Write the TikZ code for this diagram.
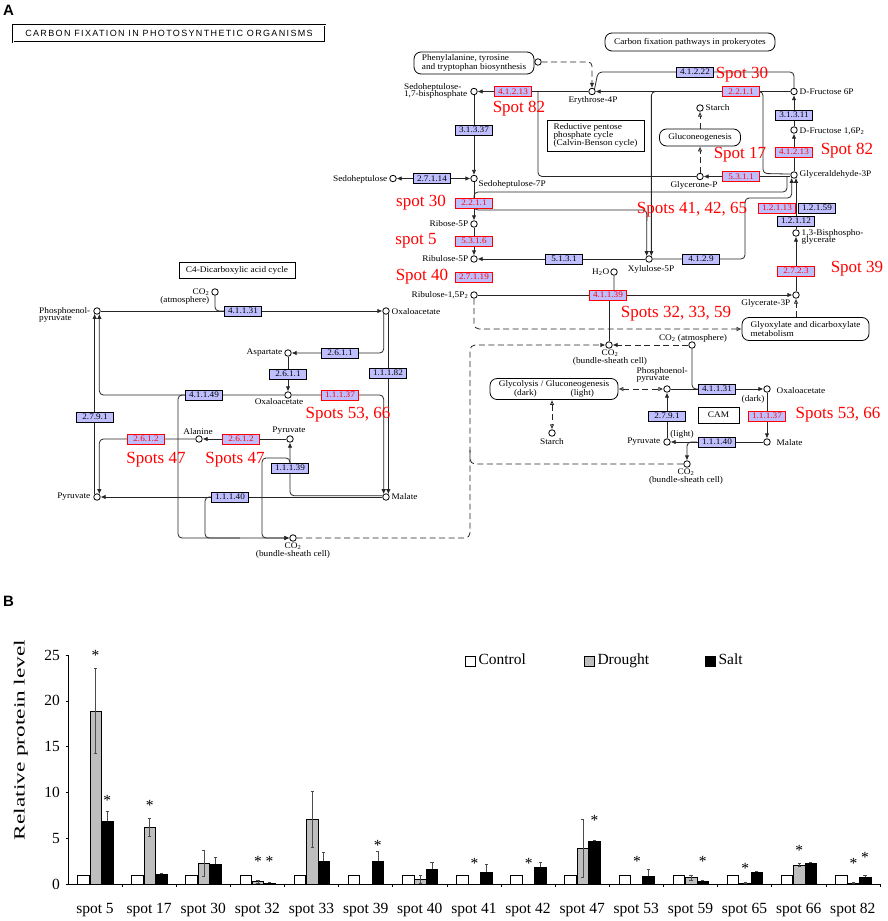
\documentclass[tikz,border=0pt]{standalone}
\usepackage{fontspec}
\setmainfont{Liberation Serif}
\newfontfamily\headfont{Liberation Sans}
\newfontfamily\capsfont[LetterSpace=15]{Liberation Sans}
\newfontfamily\keggfont[FakeStretch=1.08]{Liberation Serif}
\usetikzlibrary{arrows.meta,backgrounds,calc,positioning}
\definecolor{enzblue}{RGB}{191,191,255}
\definecolor{spotred}{RGB}{255,0,0}
\definecolor{droughtgray}{RGB}{190,190,190}
\newcommand\lblfont{\keggfont\fontsize{8.6}{7.8}\selectfont}
\newcommand\enzfont{\keggfont\fontsize{8.5}{8.5}\selectfont}
\newcommand\spotfont{\fontsize{17}{17}\selectfont}
\newcommand\chartfont{\fontsize{15.5}{16}\selectfont}
\tikzset{
  met/.style={circle,draw,line width=0.8pt,fill=white,inner sep=0pt,minimum size=6.5pt},
  enz/.style={draw,line width=0.7pt,fill=enzblue,font=\enzfont,inner sep=0pt,minimum width=37pt,minimum height=10pt},
  enzred/.style={enz,draw=red,text=red},
  lbl/.style={font=\lblfont,inner sep=0.5pt,align=left},
  spot/.style={text=spotred,font=\spotfont,inner sep=0pt},
  mapbox/.style={draw,line width=0.8pt,rounded corners=7pt,font=\lblfont,inner sep=2pt,align=left},
  sqbox/.style={draw,line width=0.8pt,font=\lblfont,inner sep=2pt,align=left},
  rx/.style={draw=black!85,line width=0.8pt},
  rxd/.style={rx,dash pattern=on 6pt off 3.5pt},
  legtext/.style={font=\chartfont,inner sep=0pt,text height=10.5pt,text depth=3pt},
  Ot/.tip={Latex[open,length=5pt,width=4.5pt]},
  >={Latex[length=5pt,width=4.5pt]},
}
\begin{document}
\begin{tikzpicture}[x=1pt,y=-1pt]
\useasboundingbox (0,0) rectangle (888,921);

% panel letters and title
\node[font=\headfont\bfseries\fontsize{15}{15}\selectfont,anchor=base west,inner sep=0pt] (lettera) at (3,15) {A};
\node[font=\headfont\bfseries\fontsize{15}{15}\selectfont,anchor=base west,inner sep=0pt] (letterb) at (3,606) {B};
\node[draw,double,double distance=0.9pt,line width=0.9pt,minimum width=312pt,minimum height=17pt,inner sep=0pt,font=\capsfont\fontsize{9}{9}\selectfont] (title) at (169,33.5) {CARBON FIXATION IN PHOTOSYNTHETIC ORGANISMS};

% map boxes
\node[mapbox,minimum width=120pt,minimum height=22pt] (phe) at (474,63) {Phenylalanine, tyrosine\\and tryptophan biosynthesis};
\node[mapbox,minimum width=170pt,minimum height=18pt] (prok) at (690,42) {Carbon fixation pathways in prokeryotes};
\node[sqbox,minimum width=97pt,minimum height=31pt] (rpp) at (595.5,135.5) {Reductive pentose\\phosphate cycle\\(Calvin-Benson cycle)};
\node[mapbox,minimum width=81pt,minimum height=17pt] (glucon) at (700,137.5) {Gluconeogenesis};
\node[mapbox,minimum width=127pt,minimum height=23pt] (glyox) at (805.5,329) {Glyoxylate and dicarboxylate\\metabolism};
\node[mapbox,minimum width=128pt,minimum height=21pt,align=center] (glyco) at (554,389) {Glycolysis / Gluconeogenesis\\(dark)\hspace{34pt}(light)};
\node[sqbox,minimum width=41pt,minimum height=16pt] (cam) at (718.5,415) {CAM};
\node[sqbox,minimum width=116pt,minimum height=16pt] (cfour) at (237,270) {C4-Dicarboxylic acid cycle};

% compounds, Calvin cycle
\node[met] (phec) at (538,62) {};
\node[met] (s17bp) at (474,91.5) {};
\node[met] (e4p) at (592,91.5) {};
\node[met] (f6p) at (794,91.5) {};
\node[met] (fbp) at (794,130) {};
\node[met] (starcha) at (700,108) {};
\node[met] (sedo) at (393,178.5) {};
\node[met] (s7p) at (474,178.5) {};
\node[met] (gap) at (794,175) {};
\node[met] (dhap) at (700,176.5) {};
\node[met] (r5p) at (474,224) {};
\node[met] (ru5p) at (474,259) {};
\node[met] (x5p) at (649,259) {};
\node[met] (bpg) at (796,233) {};
\node[met] (h2o) at (614,272) {};
\node[met] (rubp) at (474,295) {};
\node[met] (g3p) at (796,295) {};
\node[met] (co2bs) at (609,345) {};
\node[met] (co2atm) at (692,345) {};
% compounds, CAM
\node[met] (pepc) at (667,389) {};
\node[met] (oaad) at (767,389) {};
\node[met] (mald) at (767,442) {};
\node[met] (pyrd) at (667,442) {};
\node[met] (co2bsc) at (687,464) {};
\node[met] (starchb) at (552,433) {};
% compounds, C4 cycle
\node[met] (co2atmb) at (215,292) {};
\node[met] (pepb) at (97,311) {};
\node[met] (oaab) at (386,311) {};
\node[met] (asp) at (288,353) {};
\node[met] (oaac) at (288,395) {};
\node[met] (ala) at (199,439) {};
\node[met] (pyrc) at (290,439) {};
\node[met] (pyrb) at (97,497) {};
\node[met] (malb) at (386,497) {};
\node[met] (co2bsb) at (293,538) {};

% compound names
\node[lbl,anchor=east] (ls17bp) at (468,91) {Sedoheptulose-\\1,7-bisphosphate};
\node[lbl,anchor=north] (le4p) at (593,96) {Erythrose-4P};
\node[lbl,anchor=west] (lf6p) at (799,92) {D-Fructose 6P};
\node[lbl,anchor=west] (lfbp) at (799,131) {D-Fructose 1,6P\textsubscript{2}};
\node[lbl,anchor=west] (lstarcha) at (705,108) {Starch};
\node[lbl,anchor=east] (lsedo) at (388,179) {Sedoheptulose};
\node[lbl,anchor=north west] (ls7p) at (478,180) {Sedoheptulose-7P};
\node[lbl,anchor=west] (lgap) at (799,174) {Glyceraldehyde-3P};
\node[lbl,anchor=north] (ldhap) at (694,180.5) {Glycerone-P};
\node[lbl,anchor=east] (lr5p) at (469,224) {Ribose-5P};
\node[lbl,anchor=east] (lru5p) at (469,259) {Ribulose-5P};
\node[lbl,anchor=north] (lx5p) at (651,265) {Xylulose-5P};
\node[lbl,anchor=west] (lbpg) at (801,237) {1,3-Bisphospho-\\glycerate};
\node[lbl,anchor=east] (lh2o) at (610,272) {H\textsubscript{2}O};
\node[lbl,anchor=east] (lrubp) at (469,295) {Ribulose-1,5P\textsubscript{2}};
\node[lbl,anchor=north east] (lg3p) at (791,299) {Glycerate-3P};
\node[lbl,anchor=north,align=center] (lco2bs) at (610,349) {CO\textsubscript{2}\\(bundle-sheath cell)};
\node[lbl,anchor=south] (lco2atm) at (693,343.5) {CO\textsubscript{2} (atmosphere)};
\node[lbl,anchor=south west] (lpepc) at (636,383.5) {Phosphoenol-\\pyruvate};
\node[lbl,anchor=west] (loaad) at (776,391) {Oxaloacetate};
\node[lbl] (ldark) at (753,399) {(dark)};
\node[lbl,anchor=west] (lmald) at (776,443) {Malate};
\node[lbl,anchor=east] (lpyrd) at (661,442) {Pyruvate};
\node[lbl] (llight) at (682,434) {(light)};
\node[lbl,anchor=north,align=center] (lco2bsc) at (686,468) {CO\textsubscript{2}\\(bundle-sheath cell)};
\node[lbl,anchor=north] (lstarchb) at (552,438) {Starch};
\node[lbl,anchor=east,align=right] (lco2atmb) at (210,296.5) {CO\textsubscript{2}\\(atmosphere)};
\node[lbl,anchor=east] (lpepb) at (91,315) {Phosphoenol-\\pyruvate};
\node[lbl,anchor=west] (loaab) at (391,312) {Oxaloacetate};
\node[lbl,anchor=east] (lasp) at (283,353) {Aspartate};
\node[lbl,anchor=north] (loaac) at (279,398) {Oxaloacetate};
\node[lbl,anchor=south] (lala) at (198,435) {Alanine};
\node[lbl,anchor=south] (lpyrc) at (289,435) {Pyruvate};
\node[lbl,anchor=east] (lpyrb) at (91,497) {Pyruvate};
\node[lbl,anchor=west] (lmalb) at (391,497) {Malate};
\node[lbl,anchor=north,align=center] (lco2bsb) at (293,542) {CO\textsubscript{2}\\(bundle-sheath cell)};

% enzymes
\node[enzred] (ec41213a) at (513,91.5) {4.1.2.13};
\node[enz] (ec31337) at (474,130) {3.1.3.37};
\node[enz] (ec2714) at (432,178.5) {2.7.1.14};
\node[enzred] (ec2211a) at (474,203) {2.2.1.1};
\node[enzred] (ec5316) at (474,241) {5.3.1.6};
\node[enz] (ec5131) at (564,259) {5.1.3.1};
\node[enzred] (ec27119) at (474,277) {2.7.1.19};
\node[enzred] (ec41139) at (608,295) {4.1.1.39};
\node[enz] (ec41222) at (695,72) {4.1.2.22};
\node[enzred] (ec2211b) at (741,91.5) {2.2.1.1};
\node[enz] (ec31311) at (794,115) {3.1.3.11};
\node[enzred] (ec41213b) at (794,152) {4.1.2.13};
\node[enzred] (ec5311) at (741,176.5) {5.3.1.1};
\node[enzred] (ec12113) at (777,208) {1.2.1.13};
\node[enz] (ec12159) at (817,208) {1.2.1.59};
\node[enz] (ec12112) at (796,221) {1.2.1.12};
\node[enzred] (ec2723) at (796,271) {2.7.2.3};
\node[enz] (ec4129) at (701,259) {4.1.2.9};
\node[enz] (ec41131b) at (717,389) {4.1.1.31};
\node[enzred] (ec11137b) at (767,416) {1.1.1.37};
\node[enz] (ec2791b) at (667,416) {2.7.9.1};
\node[enz] (ec11140b) at (717,442) {1.1.1.40};
\node[enz] (ec41131a) at (243,311) {4.1.1.31};
\node[enz] (ec2611a) at (340,353) {2.6.1.1};
\node[enz] (ec2611b) at (288,374) {2.6.1.1};
\node[enz] (ec11182) at (388,373) {1.1.1.82};
\node[enzred] (ec11137a) at (340,395) {1.1.1.37};
\node[enz] (ec41149) at (204,395) {4.1.1.49};
\node[enz] (ec2791a) at (95,417) {2.7.9.1};
\node[enzred] (ec2612a) at (146,439) {2.6.1.2};
\node[enzred] (ec2612b) at (241,439) {2.6.1.2};
\node[enz] (ec11139) at (290,468) {1.1.1.39};
\node[enz] (ec11140a) at (230,497) {1.1.1.40};

% spots
\node[spot] (sp82a) at (519,109) {Spot 82};
\node[spot] (sp30b) at (742,75) {Spot 30};
\node[spot] (sp17) at (740,155) {Spot 17};
\node[spot] (sp82b) at (847,151) {Spot 82};
\node[spot] (sp30a) at (421,203) {spot 30};
\node[spot] (sp41) at (692,210) {Spots 41, 42, 65};
\node[spot] (sp5) at (416,241) {spot 5};
\node[spot] (sp40) at (422,277) {Spot 40};
\node[spot] (sp39) at (857,269) {Spot 39};
\node[spot] (sp32) at (676,314) {Spots 32, 33, 59};
\node[spot] (sp53b) at (838,415) {Spots 53, 66};
\node[spot] (sp53a) at (348,415) {Spots 53, 66};
\node[spot] (sp47a) at (156,460) {Spots 47};
\node[spot] (sp47b) at (235,460) {Spots 47};

\begin{scope}[on background layer]
% Calvin cycle
\draw[rx,->] (e4p) -- (s17bp);
\draw[rx,rounded corners=4pt] (dhap) -| (538,91.5);
\draw[rxd,->,rounded corners=4pt] (phec) -| (e4p);
\draw[rx,rounded corners=4pt] (f6p) |- (598,72) -- (e4p.north east);
\draw[rx,->] (f6p) -- (e4p);
\draw[rx,->,rounded corners=4pt] (660,91.5) -| (x5p.50);
\draw[rx,rounded corners=4pt] (755,91.5) -| (763,173.5) -- (gap.165);
\draw[rx,->] (gap) -- (fbp);
\draw[rx,->] (fbp) -- (f6p);
\draw[rx,->] (gap.west |- dhap) -- (dhap);
\draw[rxd,-Ot] (dhap) -- (dhap |- glucon.south);
\draw[rxd,-Ot] (starcha |- glucon.north) -- (starcha);
\draw[rx,->] (s17bp) -- (s7p);
\draw[rx,<->] (sedo) -- (s7p);
\draw[rx,->] (s7p) -- (r5p);
\draw[rx,rounded corners=4pt] (787,176.5) |- (474,192) -- (474,200);
\draw[rx,->,rounded corners=4pt] (474,205) |- (646.9,210) -- (x5p.130);
\draw[rx,->] (r5p) -- (ru5p);
\draw[rx,->] (x5p) -- (ru5p);
\draw[rx,->,rounded corners=4pt] (x5p) -| (745,198) -| (gap.-130);
\draw[rx,->] (g3p) -- (bpg);
\draw[rx,->] (bpg) -- (bpg |- gap.-50);
\draw[rx,->] (rubp) -- (g3p);
\draw[rx,rounded corners=3pt] (h2o) |- (622,295);
\draw[rx] (co2bs) -- (co2bs |- rubp);
\draw[rxd,-Ot,rounded corners=5pt] (rubp) |- (glyox);
\draw[rxd,-Ot] (g3p |- glyox.north) -- (g3p);
% CAM
\draw[rxd,->] (co2atm) -- (co2bs);
\draw[rxd,->,rounded corners=5pt] (co2bsb) -| (470,345) -- (co2bs);
\draw[rxd,rounded corners=5pt] (470,450) |- (co2bsc);
\draw[rxd,Ot-Ot] (glyco) -- (pepc);
\draw[rxd,Ot-Ot] (starchb |- glyco.south) -- (starchb);
\draw[rx,->] (pepc) -- (oaad);
\draw[rx,rounded corners=4pt] (co2atm) |- (705,389);
\draw[rx,->] (oaad) -- (mald);
\draw[rx,->] (mald) -- (pyrd);
\draw[rx,->,rounded corners=4pt] (697,442) -| (co2bsc);
\draw[rx,->] (pyrd) -- (pepc);
% C4 cycle
\draw[rx,->] (pepb) -- (oaab);
\draw[rx,rounded corners=4pt] (co2atmb) |- (226,311);
\draw[rx,->,rounded corners=4pt] (oaab.-130) |- (asp);
\draw[rx,->] (oaab.-50) -- (malb.50);
\draw[rx,->] (asp) -- (oaac);
\draw[rx,->,rounded corners=4pt] (oaac) -| (malb.130);
\draw[rx,->,rounded corners=4pt] (oaac) -| (pepb.-50);
\draw[rx,->,rounded corners=4pt] (ec41149.west) -| (178,538) -- (co2bsb);
\draw[rx,rounded corners=4pt] (ec11140a.west) -| (205,538) -- (240,538);
\draw[rx,->] (malb) -- (pyrb);
\draw[rx,->,rounded corners=4pt] (malb.160) -| (pyrc);
\draw[rx,->,rounded corners=4pt] (290,466) |- (262,458) |- (co2bsb);
\draw[rx,->] (pyrc) -- (ala);
\draw[rx,->,rounded corners=4pt] (ala) -| (pyrb.50);
\draw[rx,->] (pyrb.130) -- (pepb.-130);
\end{scope}

% bar chart
\draw[line width=0.6pt] (68,655) -- (68,884) -- (880,884);
\foreach \v in {0,5,10,15,20,25}{
  \draw[line width=0.6pt] (65.5,{884-9.16*\v}) -- (68,{884-9.16*\v});
  \node[font=\chartfont,anchor=east,inner sep=0pt] (ytick\v) at (60,{884-9.16*\v}) {\v};
}
\foreach \k in {1,...,15}{
  \draw[line width=0.6pt] ({68+54.13*\k},884) -- ++(0,3);
}
\node[font=\chartfont,rotate=90] (ylab) at (21,740) {\scalebox{1.5}[1]{Relative protein level}};
\foreach \lab/\dv/\de/\sv/\se [count=\i from 0] in {
  5/18.9/4.6/6.8/1.15, 17/6.2/0.95/1.06/0.15, 30/2.25/1.4/2.15/0.75,
  32/0.25/0.15/0.12/0.05, 33/7.06/3.05/2.45/1.05, 39/0/0/2.45/1.15,
  40/0.5/0.45/1.6/0.75, 41/0/0/1.33/0.85, 42/0/0/1.8/0.6,
  47/3.9/3.15/4.7/0.05, 53/0/0/0.8/0.8, 59/0.7/0.3/0.25/0.15,
  65/0.1/0.05/1.25/0.1, 66/2.07/0.15/2.3/0.1, 82/0.1/0.05/0.75/0.25}{
  \pgfmathsetmacro\gx{68+54.13*\i}
  \draw[line width=0.6pt,fill=white] ({\gx+9.5},884) rectangle ({\gx+21.1},{884-9.16});
  \ifdim\dv pt>0pt
    \pgfmathsetmacro\dtop{884-9.16*(\dv+\de)}
    \pgfmathsetmacro\dbot{884-9.16*(\dv-\de)}
    \draw[line width=0.6pt,fill=droughtgray] ({\gx+21.8},884) rectangle ({\gx+33.4},{884-9.16*\dv});
    \draw[line width=0.5pt,black!70] ({\gx+27.6},\dbot) -- ({\gx+27.6},\dtop);
    \draw[line width=0.5pt,black!70] ({\gx+26},\dtop) -- ({\gx+29.2},\dtop);
    \draw[line width=0.5pt,black!70] ({\gx+26},\dbot) -- ({\gx+29.2},\dbot);
  \fi
  \pgfmathsetmacro\stop{884-9.16*(\sv+\se)}
  \draw[line width=0.5pt,black!70] ({\gx+39.2},{884-9.16*\sv}) -- ({\gx+39.2},\stop);
  \draw[line width=0.5pt,black!70] ({\gx+37.6},\stop) -- ({\gx+40.8},\stop);
  \draw[line width=0.6pt,fill=black] ({\gx+33.4},884) rectangle ({\gx+45},{884-9.16*\sv});
  \node[font=\chartfont,anchor=base] (xlab\i) at ({\gx+27},913) {spot \lab};
}
% significance marks
\foreach \g/\o/\v [count=\k] in {0/27.6/25.2, 0/39.2/9.4, 1/27.6/8.8, 3/27.6/2.7, 3/39.2/2.7,
  5/39.2/4.5, 7/27.6/2.5, 8/27.6/2.5, 9/39.2/7.2, 10/27.6/2.7, 11/39.2/2.7,
  12/27.6/2.0, 13/27.6/3.9, 14/27.6/2.5, 14/39.2/3.2}{
  \node[font=\chartfont,inner sep=0pt] (star\k) at ({68+54.13*\g+\o},{884-9.16*\v+2.5}) {*};
}
% legend
\node[draw,line width=0.6pt,fill=white,minimum size=10pt,inner sep=0pt] (legca) at (470,661) {};
\node[legtext,right=3pt of legca] (legc) {Control};
\node[draw,line width=0.6pt,fill=droughtgray,minimum size=10pt,inner sep=0pt] (legda) at (589,661) {};
\node[legtext,right=3pt of legda] (legd) {Drought};
\node[draw,line width=0.6pt,fill=black,minimum size=10pt,inner sep=0pt] (legsa) at (710,661) {};
\node[legtext,right=3pt of legsa] (legs) {Salt};

\end{tikzpicture}
\end{document}
